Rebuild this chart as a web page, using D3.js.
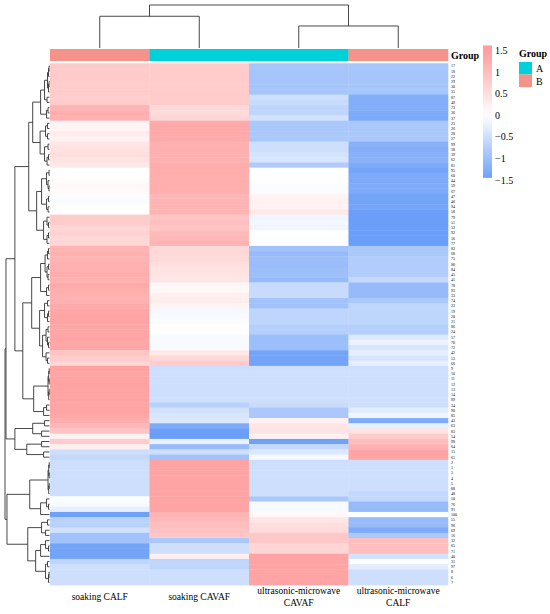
<!DOCTYPE html>
<html>
<head>
<meta charset="utf-8">
<script src="https://cdn.jsdelivr.net/npm/d3@7"></script>
<style>
  body { margin: 0; background: #fff; }
</style>
</head>
<body>
<div id="chart"></div>
<script>
// Row labels, top to bottom (clustered order)
const rowLabels = ["17","18","22","29","30","35","87","49","73","36",
  "37","25","26","28","27","99","38","39","62","81",
  "95","60","44","59","67","47","46","94","58","79",
  "51","52","92","56","77","82","68","75","80","84",
  "45","41","78","93","33","74","23","19","20","21",
  "86","24","57","70","72","42","53","66","9","10",
  "11","12","13","14","89","34","90","85","43","63",
  "83","54","98","64","15","61","2","1","3","4",
  "5","88","48","50","76","91","100","55","96","69",
  "16","32","65","71","40","31","97","8","6","7"];

const colNames = ["soaking CALF", "soaking CAVAF", "ultrasonic-microwave CAVAF", "ultrasonic-microwave CALF"];
const colGroups = ["B", "A", "A", "B"];
const groupNames = ["A", "B"];

// Scaled values (row z-scores), one array per column, same order as rowLabels
const soakingCALF = [0.82,0.8,0.81,0.8,0.79,0.8,0.75,0.8,1.15,1.25,
  1.2,0.2,0.15,0.3,0.2,0.4,0.45,0.5,0.45,0.35,
  0,0.02,0.05,0.1,0.08,-0.05,-0.06,-0.02,0,0.78,
  0.78,0.65,0.7,0.6,0.65,1.15,1.2,1.15,1.2,1.2,
  1.25,1.2,1.3,1.25,1.2,1.2,1.3,1.35,1.4,1.4,
  1.35,1.35,1.38,1.35,1.35,0.9,0.78,0.62,1.42,1.4,
  1.4,1.42,1.4,1.4,1.42,1.38,1.4,1.35,1.25,1.1,
  0.9,0.2,0.8,0.25,-0.5,-0.6,-0.5,-0.5,-0.5,-0.5,
  -0.5,-0.5,-0.5,-0.03,-0.08,-0.25,-1.45,-0.7,-0.7,-0.45,
  -0.95,-0.95,-1.4,-1.4,-1.4,-0.65,-0.5,-0.5,-0.5,-0.5];
const soakingCAVAF = [0.8,0.8,0.8,0.8,0.8,0.8,0.8,0.8,0.6,0.55,
  0.62,1.3,1.3,1.32,1.3,1.2,1.22,1.2,1.2,1.25,
  1.25,1.25,1.25,1.25,1.25,1.1,1.15,1.15,1.15,0.9,
  0.98,0.9,1.05,1.1,1.15,0.6,0.6,0.6,0.5,0.45,
  0.42,0.4,0.12,0.1,0.25,0.28,0.18,-0.1,-0.08,-0.05,
  0.03,0.02,-0.08,-0.08,-0.08,0.35,0.6,0.8,-0.5,-0.5,
  -0.5,-0.5,-0.5,-0.5,-0.5,-0.7,-0.45,-0.4,-0.35,-1.3,
  -1.5,-1.5,-0.2,-1.05,-0.5,-0.95,1.4,1.4,1.4,1.4,
  1.4,1.4,1.4,1.4,1.4,1.4,1.15,1.1,1.0,0.95,
  0.85,-0.85,-0.5,-0.5,0.25,-0.65,-0.65,-0.5,-0.5,-0.5];
const umCAVAF = [-0.9,-0.9,-0.9,-0.9,-0.9,-0.9,-0.5,-0.55,-0.65,-0.65,
  -0.45,-0.85,-0.85,-0.85,-0.85,-0.5,-0.5,-0.42,-0.4,-0.8,
  0,0,0.02,-0.05,-0.04,0.18,0.22,0.2,0.35,-0.15,
  -0.12,-0.15,0,-0.01,0,-0.95,-1.05,-1.0,-1.02,-1.0,
  -0.98,-1.05,-0.55,-0.55,-0.55,-0.95,-0.95,-0.65,-0.65,-0.65,
  -0.75,-0.75,-1.0,-1.0,-1.0,-1.4,-1.4,-1.4,-0.5,-0.5,
  -0.5,-0.5,-0.5,-0.5,-0.5,-0.55,-0.85,-0.85,0.22,0.4,
  0.45,0.2,-1.45,-0.6,-0.35,-0.1,-0.5,-0.5,-0.5,-0.5,
  -0.5,-0.5,-0.5,-0.85,-0.08,-0.08,0.1,0.4,0.5,0.55,
  0.85,0.85,0.65,0.65,1.4,1.4,1.4,1.4,1.4,1.4];
const umCALF = [-0.9,-0.9,-0.9,-0.9,-0.9,-0.9,-1.25,-1.25,-1.25,-1.3,
  -1.32,-0.85,-0.85,-0.85,-0.85,-1.2,-1.25,-1.2,-1.2,-1.3,
  -1.4,-1.3,-1.3,-1.3,-1.3,-1.4,-1.4,-1.4,-1.5,-1.5,
  -1.5,-1.5,-1.5,-1.5,-1.5,-0.85,-0.85,-0.78,-0.78,-0.78,
  -0.78,-0.6,-1.05,-1.05,-1.05,-0.85,-0.65,-0.65,-0.65,-0.65,
  -0.75,-0.75,-0.35,-0.2,-0.4,-0.25,-0.4,-0.25,-0.5,-0.5,
  -0.5,-0.5,-0.5,-0.5,-0.5,-0.5,-0.3,-0.15,-1.3,-0.25,
  0.45,0.8,1.0,1.2,1.4,1.4,-0.5,-0.5,-0.5,-0.5,
  -0.5,-0.5,-0.6,-0.6,-1.05,-1.05,-0.03,-1.05,-1.05,-1.3,
  -0.85,1.0,1.0,1.0,-0.45,0,-0.3,-0.5,-0.5,-0.5];

const legendTicks = [-1.5, -1, -0.5, 0, 0.5, 1, 1.5];

// Row dendrogram, "(left,right)height" notation, leaves are row labels
const treeC1 = "(((((((17,18)0.5,22)1,((29,30)0.5,35)1)2,(87,49)2.5)5,((73,36)1.5,37)3)9," +
  "(((25,26)2,(28,27)2)4,((99,38)1.5,((39,62)1,81)2.5)5)9.5)17," +
  "((((95,60)0.5,(44,(59,67)0.5)1.5)3,((47,46)1,(94,58)1.5)3)8,((79,(51,52)1)2.5,((92,56)1,77)2.5)6)13)21";
const treeC2 = "((((((82,68)1,75)2,((80,84)1,(45,41)1.5)2.5)4.5,((78,93)1,33)3)9," +
  "(((74,23)2,((19,20)1,21)2)5,(((86,24)1.5,(57,(70,72)1)2)3.5,(42,(53,66)2)3.5)7)10)18," +
  "((((9,10)0.3,(11,12)0.3)0.8,((13,14)0.3,89)0.8)1.5,((34,90)3,85)6)16)27";
const treeM = "(((43,63)5,(83,54)8)17,((98,64)8,(15,61)6)23)35";
const treeB = "(((((2,1)0.3,(3,4)0.3)0.8,((5,88)0.3,48)0.8)1.5,((50,(76,91)1)3,100)9)20," +
  "(((55,96)2,(69,16)4)8,(((32,(65,71)1)4,40)9,((31,97)2,((8,6)0.5,7)1)4)14)22)43";
const rowTree = "(((" + treeC1 + "," + treeC2 + ")35," + treeM + ")44," + treeB + ")45";

// Column dendrogram
const colTree = "((soaking CALF,soaking CAVAF)31,(ultrasonic-microwave CAVAF,ultrasonic-microwave CALF)21.5)42";

// ---------- helpers ----------
function parseTree(s) {
  let i = 0;
  function token() {
    let j = i;
    while (j < s.length && !"(),".includes(s[j])) j++;
    const t = s.slice(i, j);
    i = j;
    return t;
  }
  function node() {
    if (s[i] === "(") {
      i++;
      const children = [node()];
      while (s[i] === ",") { i++; children.push(node()); }
      i++; // ')'
      return { children, h: +token() };
    }
    return { name: token(), h: 0 };
  }
  return node();
}

// place leaves by scale, internal nodes at mid of children
function placeTree(n, pos) {
  if (!n.children) { n.p = pos(n.name); return n.p; }
  n.children.forEach(c => placeTree(c, pos));
  n.p = (n.children[0].p + n.children[n.children.length - 1].p) / 2;
  return n.p;
}

function treeSegments(n, out) {
  if (!n.children) return out;
  const first = n.children[0].p, last = n.children[n.children.length - 1].p;
  out.push({ type: "span", h: n.h, a: first, b: last });
  n.children.forEach(c => {
    out.push({ type: "arm", p: c.p, h0: n.h, h1: c.h });
    treeSegments(c, out);
  });
  return out;
}

const W = 550, H = 614;
const HM = { left: 50, right: 448, top: 63.3, bottom: 585 };

const svg = d3.select("#chart").append("svg")
  .attr("width", W).attr("height", H)
  .attr("font-family", "'Liberation Serif', 'Times New Roman', serif");

const x = d3.scaleBand().domain(colNames).range([HM.left, HM.right]);
const y = d3.scaleBand().domain(rowLabels).range([HM.top, HM.bottom]);

const color = d3.scaleLinear()
  .domain([-1.5, 0, 1.5])
  .range(["#6A9EF8", "#FFFFFF", "#FF9D9D"])
  .clamp(true);

const groupColor = d3.scaleOrdinal().domain(groupNames).range(["#00D0D8", "#F5938A"]);

// ---------- heatmap cells ----------
const series = [soakingCALF, soakingCAVAF, umCAVAF, umCALF];
const cells = [];
series.forEach((vals, ci) => {
  vals.forEach((v, ri) => cells.push({ col: colNames[ci], row: rowLabels[ri], v }));
});

svg.append("g").selectAll("rect")
  .data(cells)
  .enter()
  .append("rect")
  .attr("x", d => x(d.col))
  .attr("y", d => y(d.row))
  .attr("width", x.bandwidth() + 0.3)
  .attr("height", y.bandwidth() + 0.4)
  .attr("fill", d => color(d.v));

// ---------- row labels ----------
svg.append("g").selectAll("text")
  .data(rowLabels)
  .enter()
  .append("text")
  .attr("x", HM.right + 3)
  .attr("y", d => y(d) + y.bandwidth() / 2)
  .attr("dominant-baseline", "central")
  .style("font-size", "4px")
  .text(d => d);

// ---------- column labels ----------
const colLab = svg.append("g").selectAll("text")
  .data(colNames)
  .enter()
  .append("text")
  .attr("text-anchor", "middle")
  .style("font-size", "9.5px");
colLab.each(function(d) {
  const lines = d.startsWith("ultrasonic") ? d.split(" ") : [d];
  const cx = x(d) + x.bandwidth() / 2;
  const y0 = lines.length > 1 ? 594 : 600;
  d3.select(this).selectAll("tspan")
    .data(lines)
    .enter()
    .append("tspan")
    .attr("x", cx)
    .attr("y", (l, i) => y0 + i * 12)
    .text(l => l);
});

// ---------- column annotation ----------
svg.append("g").selectAll("rect")
  .data(colNames)
  .enter()
  .append("rect")
  .attr("x", d => x(d))
  .attr("y", 49)
  .attr("width", x.bandwidth() + 0.3)
  .attr("height", 12)
  .attr("fill", (d, i) => groupColor(colGroups[i]));

svg.append("text")
  .attr("x", HM.right + 3)
  .attr("y", 59)
  .style("font-size", "10px")
  .style("font-weight", "bold")
  .text("Group");

// ---------- dendrograms ----------
const lineStyle = sel => sel.attr("stroke", "#333").attr("stroke-width", 0.9).attr("fill", "none");

// rows
const rTree = parseTree(rowTree);
placeTree(rTree, name => y(name) + y.bandwidth() / 2);
const rx = d3.scaleLinear().domain([0, 45]).range([HM.left - 0.5, 5]);
const rowSeg = treeSegments(rTree, []);
svg.append("g").selectAll("line")
  .data(rowSeg)
  .enter()
  .append("line")
  .attr("x1", d => d.type === "span" ? rx(d.h) : rx(d.h0))
  .attr("x2", d => d.type === "span" ? rx(d.h) : rx(d.h1))
  .attr("y1", d => d.type === "span" ? d.a : d.p)
  .attr("y2", d => d.type === "span" ? d.b : d.p)
  .call(lineStyle);

// columns
const cTree = parseTree(colTree);
placeTree(cTree, name => x(name) + x.bandwidth() / 2);
const cy = d3.scaleLinear().domain([0, 42]).range([48, 5]);
const colSeg = treeSegments(cTree, []);
svg.append("g").selectAll("line")
  .data(colSeg)
  .enter()
  .append("line")
  .attr("y1", d => d.type === "span" ? cy(d.h) : cy(d.h0))
  .attr("y2", d => d.type === "span" ? cy(d.h) : cy(d.h1))
  .attr("x1", d => d.type === "span" ? d.a : d.p)
  .attr("x2", d => d.type === "span" ? d.b : d.p)
  .call(lineStyle);

// ---------- colour legend ----------
const ly = d3.scaleLinear().domain([-1.5, 1.5]).range([180, 50.6]);
const barTop = 1.62, barBottom = -1.45;
const grad = svg.append("defs").append("linearGradient")
  .attr("id", "hmGrad").attr("x1", 0).attr("x2", 0).attr("y1", 0).attr("y2", 1);
d3.range(0, 1.0001, 0.05).forEach(t => {
  const v = barTop + (barBottom - barTop) * t;
  grad.append("stop").attr("offset", t).attr("stop-color", color(v));
});
svg.append("rect")
  .attr("x", 483)
  .attr("y", ly(barTop))
  .attr("width", 9)
  .attr("height", ly(barBottom) - ly(barTop))
  .attr("fill", "url(#hmGrad)");

svg.append("g").selectAll("text")
  .data(legendTicks)
  .enter()
  .append("text")
  .attr("x", 495)
  .attr("y", d => ly(d))
  .attr("dominant-baseline", "central")
  .style("font-size", "10px")
  .text(d => d3.format("")(d).replace("-", "\u2212"));

// ---------- group legend ----------
svg.append("text")
  .attr("x", 519)
  .attr("y", 57)
  .style("font-size", "10px")
  .style("font-weight", "bold")
  .text("Group");

const gl = svg.append("g").selectAll("g")
  .data(groupNames)
  .enter()
  .append("g")
  .attr("transform", (d, i) => `translate(519,${62 + i * 12.5})`);
gl.append("rect")
  .attr("width", 13)
  .attr("height", 12.5)
  .attr("fill", d => groupColor(d));
gl.append("text")
  .attr("x", 17)
  .attr("y", 6.5)
  .attr("dominant-baseline", "central")
  .style("font-size", "10px")
  .text(d => d);
</script>
</body>
</html>
